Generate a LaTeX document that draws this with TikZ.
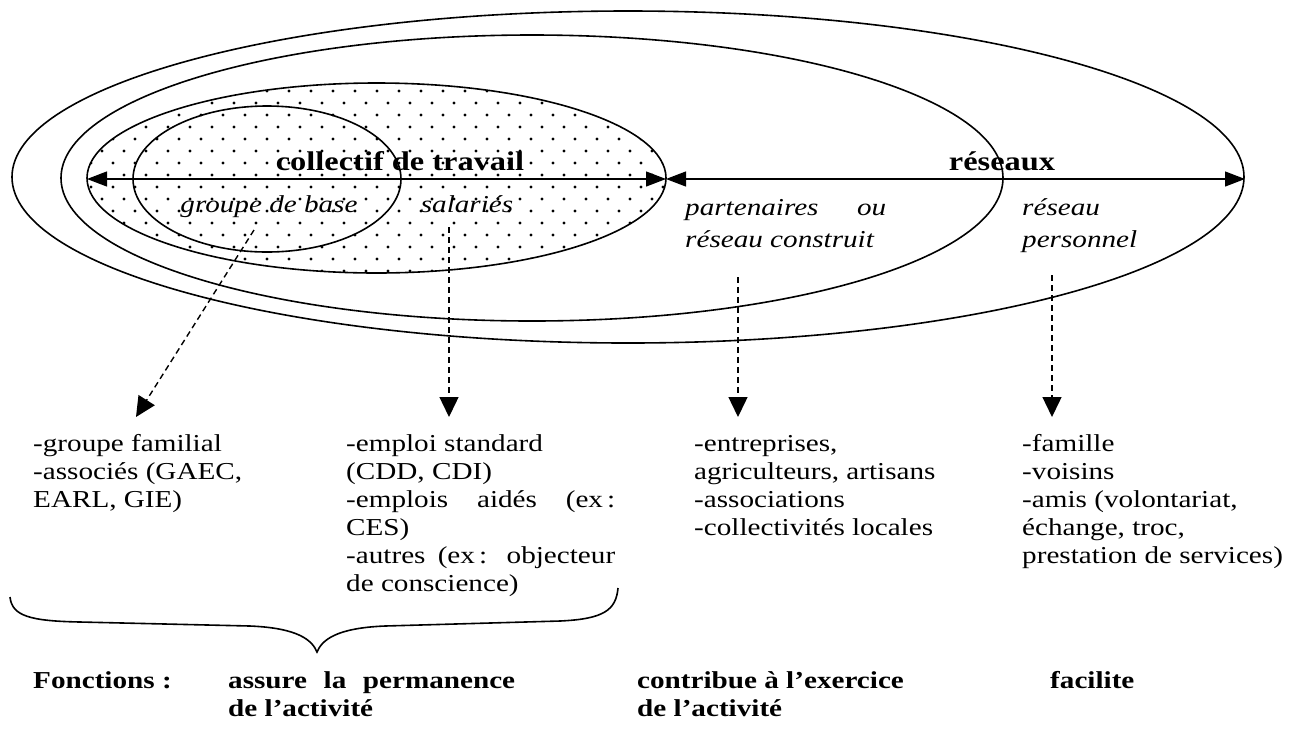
\documentclass[tikz,border=0pt]{standalone}
\usepackage{fontspec}
\setmainfont{Liberation Serif}[FakeStretch=1.2]
\usetikzlibrary{arrows.meta}

\newcommand{\colblock}[1]{\begin{tabular}[t]{@{}l@{}}#1\end{tabular}}

\begin{document}
\begin{tikzpicture}[x=1pt,y=-1pt,
  ring/.style={line width=1.6pt},
  span/.style={line width=1.2pt,
    {Triangle[length=20pt,width=15pt]}-{Triangle[length=20pt,width=15pt]}},
  link/.style={line width=1.4pt, dash pattern=on 6pt off 4pt,
    -{Triangle[length=20pt,width=19pt]}},
  body/.style={inner sep=0pt, font=\fontsize{24.3}{28}\selectfont},
  head/.style={inner sep=0pt, font=\fontsize{24.3}{28}\selectfont\bfseries},
  title/.style={inner sep=0pt, font=\fontsize{27}{30}\selectfont\bfseries},
  lab/.style={inner sep=0pt, font=\fontsize{24.3}{32}\selectfont\itshape},
]
\useasboundingbox (0,0) rectangle (1292,740);

% dotted fill of the work collective
\begin{scope}
  \clip (376.5,178) ellipse [x radius=289.5, y radius=95];
  \foreach \j in {0,...,17} {
    \foreach \i in {0,...,28} {
      \fill ({80+22*\i+11*mod(\j,2)},{79+12*\j}) circle [radius=1.7pt];
    }
  }
\end{scope}

% nested rings
\draw[ring] (628,177) ellipse [x radius=616, y radius=166];
\draw[ring] (532,178) ellipse [x radius=471, y radius=143];
\draw[ring] (376.5,178) ellipse [x radius=289.5, y radius=95];
\draw[ring] (267,179) ellipse [x radius=134, y radius=73];

% span arrows
\coordinate (cL) at (87,179);
\coordinate (mid) at (666,179);
\coordinate (rR) at (1245,179);
\draw[span] (cL) -- (mid);
\draw[span] (mid) -- (rR);

% ring labels
\node[title, anchor=base] (collectif) at (400,170) {collectif de travail};
\node[title, anchor=base] (reseaux) at (1002,170) {réseaux};
\node[lab, anchor=base] (base) at (269,212) {groupe de base};
\node[lab, anchor=base] (salaries) at (467,212) {salariés};
\node[lab, anchor=base west] (partenaires) at (685,215)
  {\begin{tabular}[t]{@{}l@{}}\makebox[201pt][s]{partenaires ou}\\réseau construit\end{tabular}};
\node[lab, anchor=base west] (personnel) at (1022,215)
  {\begin{tabular}[t]{@{}l@{}}réseau\\personnel\end{tabular}};

% lists
\node[body, anchor=base west] (famille) at (33,451)
  {\colblock{-groupe familial\\-associés (GAEC,\\EARL, GIE)}};
\node[body, anchor=base west] (emploi) at (346,451)
  {\colblock{-emploi standard\\(CDD, CDI)\\\makebox[269pt][s]{-emplois aidés (ex\,:}\\CES)\\\makebox[269pt][s]{-autres (ex\,: objecteur}\\de conscience)}};
\node[body, anchor=base west] (entreprises) at (694,451)
  {\colblock{-entreprises,\\agriculteurs, artisans\\-associations\\-collectivités locales}};
\node[body, anchor=base west] (amis) at (1022,451)
  {\colblock{-famille\\-voisins\\-amis (volontariat,\\échange, troc,\\prestation de services)}};

% dashed links
\coordinate (s1) at (254,230);
\coordinate (e1) at (136,417);
\coordinate (s2) at (449,227);
\coordinate (e2) at (449,417);
\coordinate (s3) at (738,277);
\coordinate (e3) at (738,417);
\coordinate (s4) at (1052,275);
\coordinate (e4) at (1052,417);
\draw[link] (s1) -- (e1);
\draw[link] (s2) -- (e2);
\draw[link] (s3) -- (e3);
\draw[link] (s4) -- (e4);

% brace under the work collective
\coordinate (bl) at (10,597);
\coordinate (bt) at (317,652);
\coordinate (br) at (618,588);
\draw[line width=1.6pt] (bl) .. controls (12,616) and (30,621) .. (80,622)
  -- (250,626) .. controls (298,628) and (312,640) .. (bt)
  .. controls (322,640) and (336,628) .. (385,626)
  -- (560,621) .. controls (604,619) and (616,610) .. (br);

% functions
\node[head, anchor=base west] (fonctions) at (33,688) {Fonctions :};
\node[head, anchor=base west] (assure) at (228,688)
  {\begin{tabular}[t]{@{}l@{}}\makebox[287pt][s]{assure la permanence}\\de l’activité\end{tabular}};
\node[head, anchor=base west] (contribue) at (637,688)
  {\begin{tabular}[t]{@{}l@{}}contribue à l’exercice\\de l’activité\end{tabular}};
\node[head, anchor=base west] (facilite) at (1050,688) {facilite};
\end{tikzpicture}
\end{document}
